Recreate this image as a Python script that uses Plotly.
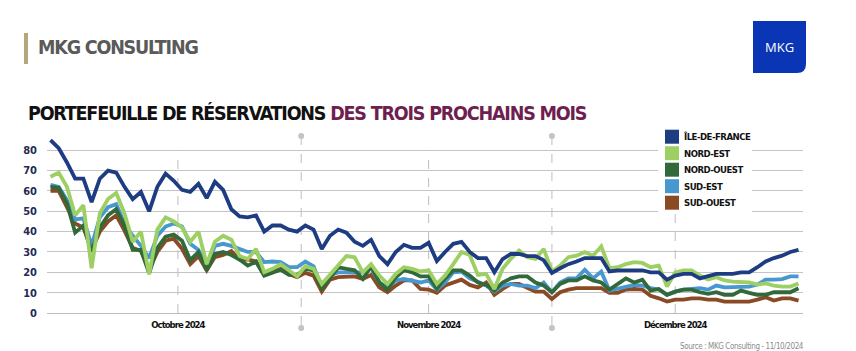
import plotly.graph_objects as go
import pandas as pd

# ---------------- data ----------------
START_DATE = "2024-10-01"
N_DAYS = 92

NAMES = ["ÎLE-DE-FRANCE", "NORD-EST", "NORD-OUEST", "SUD-EST", "SUD-OUEST"]
COLORS = ["#1E3C82", "#9DCF63", "#31693A", "#4798D0", "#8A4A24"]

IDF = [85, 81, 74, 66, 66, 54.5, 66, 70, 69, 62, 56, 59.5, 50, 62, 68.5, 65, 60.5, 59.5, 63.5, 56.5, 64.5, 60.5, 51,
       47.5, 47, 48, 40, 43, 43, 41, 40, 43, 41, 31.5, 38, 41, 39.5, 35, 33, 36, 28, 24, 30, 33.5, 32, 32,
       34.5, 25.5, 30, 34, 35, 30, 27, 27, 20, 26.5, 29, 29, 28, 28, 26, 19.7, 22, 24, 25.3, 27, 27, 27, 20.4,
       21, 21, 21, 21, 20, 20, 16.4, 18.4, 19.2, 19.2, 17, 18, 19.2, 19.2, 19.2, 20, 20, 22.5, 25.3, 27, 28.2, 30, 31]
NORD_EST = [67, 69, 62, 48, 53, 22, 49, 56, 59, 49, 35, 40, 19, 41, 47, 45, 42, 35, 40, 24, 35, 38, 36,
            28, 26.5, 31.5, 20, 21.7, 24, 21, 18, 23, 21.7, 14.3, 19, 24, 28, 27.4, 20, 24, 18.4, 14.3, 19.2, 22.5, 21.7, 20.4,
            21, 14.3, 18.4, 24, 30, 28.5, 18.7, 19.2, 11.8, 21.7, 26.6, 30.7, 27.4, 26.6, 31.5, 20.4, 23.3, 27.4, 28.2, 30, 28.2, 32.8, 22,
            22.5, 24, 25, 24.6, 22.5, 23.3, 13, 20, 21, 21, 18.4, 16.5, 17.6, 16, 15.4, 15, 15, 14, 14.5, 13.5, 13, 13, 14.5]
NORD_OUEST = [62, 61.5, 54, 39.5, 43, 30, 42, 48, 51, 43, 31, 31, 19.5, 32, 37.5, 38.5, 35.5, 26, 30, 21, 29, 30, 28.5,
              26.3, 23.3, 25.3, 18.4, 19.7, 21.3, 18.7, 18.7, 21.7, 21, 12, 17.6, 22.5, 21.7, 21, 16.7, 23, 15, 11.5, 17.6, 21, 20, 18,
              18, 12, 17, 21, 21, 18.4, 15, 13.8, 11, 15, 17, 18, 18, 15, 13.5, 10.2, 14.3, 16, 16, 18, 16, 15, 11.5,
              14.3, 17, 15, 16.4, 11, 11.8, 8.9, 10.5, 11.5, 11.5, 10.2, 9.4, 10.2, 8.9, 8.9, 11, 9.9, 8.9, 8.9, 10.2, 10.2, 10.2, 12.2]
SUD_EST = [63, 62, 55.5, 46, 46.5, 33, 47, 52, 53.5, 44, 38, 33, 27, 38, 42.5, 44, 42.5, 34, 31, 22.5, 33, 34, 33,
           31.5, 30, 30, 25, 25.3, 25, 22.5, 22.5, 25.3, 23, 12.6, 18.4, 20, 20, 20, 20, 22, 15, 12.6, 16, 16.7, 16, 15,
           16, 11.5, 15, 20, 20.4, 17, 15.4, 13.5, 10.5, 13.5, 14.3, 13.5, 13.5, 12.2, 15, 10.2, 15, 17, 17, 21.3, 17, 20.4, 11,
           12, 13, 13.8, 13.5, 12.2, 11.5, 8.9, 10.5, 11.5, 11.8, 12.2, 11.5, 13.5, 12.6, 12.6, 13, 13, 14, 16.4, 16.4, 16.7, 18, 18]
SUD_OUEST = [60, 60, 52, 44, 42, 31, 40, 45, 48, 40.5, 32, 30.5, 21.5, 30, 35.5, 36.5, 31.5, 24, 28, 21, 27.5, 28.5, 30.5,
             26.3, 26.3, 25.3, 18.7, 20, 21.7, 19.2, 17.6, 19.7, 18.4, 10.5, 16.4, 17.6, 18, 18, 16.7, 18.7, 12.6, 10.2, 13.5, 16, 16, 11.8,
             11.5, 9.9, 13.5, 15, 16.4, 13.8, 12.6, 15, 8.9, 11.8, 14.3, 14.3, 12.6, 10.5, 10.5, 6.9, 10.2, 11.5, 12.2, 12.2, 12.2, 12.2, 9.9,
             9.9, 11.5, 11.8, 11.5, 8.5, 7.2, 5.6, 6.6, 6.6, 7.2, 7.2, 6.6, 6.6, 5.6, 5.6, 5.6, 5.6, 6.6, 7.7, 6.1, 7.2, 7.2, 6.1]
SERIES = [IDF, NORD_EST, NORD_OUEST, SUD_EST, SUD_OUEST]

MONTH_LABELS = ["Octobre 2024", "Novembre 2024", "Décembre 2024"]
MONTH_MIDS = ["2024-10-16 12:00", "2024-11-16", "2024-12-16"]
MONTH_BOUNDS = ["2024-10-31 12:00", "2024-12-01"]
Y_TICKS = [0, 10, 20, 30, 40, 50, 60, 70, 80]

# ---------------- layout geometry ----------------
W, H = 856, 351
L, R, T, B = 47, 53, 136, 38
PW = W - L - R
PH = H - T - B
NARROW = "DejaVu Sans Condensed, Liberation Sans Narrow, Arial Narrow, sans-serif"


def px(xp):
    return (xp - L) / PW


def py(yp):
    return (H - B - yp) / PH


def tight(text, spacing):
    return f"<span style='letter-spacing:{spacing}px'>{text}</span>"


dates = pd.date_range(START_DATE, periods=N_DAYS, freq="D")
day_px = 8.22
x_start = dates[0] - pd.Timedelta(days=(50.5 - L) / day_px)
x_end = dates[0] + pd.Timedelta(days=(W - R - 50.5) / day_px)

fig = go.Figure()
for name, vals, color in reversed(list(zip(NAMES, SERIES, COLORS))):
    fig.add_trace(go.Scatter(x=dates, y=vals, mode="lines", name=name,
                             line=dict(color=color, width=3.8), showlegend=False,
                             hoverinfo="skip"))

shapes = []
for m in MONTH_MIDS:
    shapes.append(dict(type="line", xref="x", yref="y", x0=m, x1=m, y0=0, y1=80,
                       line=dict(color="#BDBDBD", width=1, dash="dash"), layer="between"))
for m in MONTH_BOUNDS:
    shapes.append(dict(type="line", xref="x", yref="paper", x0=m, x1=m, y0=py(136), y1=py(328),
                       line=dict(color="#BDBDBD", width=1, dash="dash"), layer="between"))
    for yy in (136, 328):
        shapes.append(dict(type="circle", xref="x", yref="paper", xsizemode="pixel", ysizemode="pixel",
                           xanchor=m, yanchor=py(yy), x0=-3, x1=3, y0=-3, y1=3,
                           fillcolor="#C4C4C4", line=dict(width=0), layer="above"))
shapes.append(dict(type="rect", xref="paper", yref="paper", x0=px(658), x1=px(752), y0=py(127), y1=py(213),
                   fillcolor="white", line=dict(width=0), layer="above"))
for i, color in enumerate(COLORS):
    cy = 136.7 + i * 16.5
    shapes.append(dict(type="rect", xref="paper", yref="paper", x0=px(665), x1=px(679),
                       y0=py(cy + 7), y1=py(cy - 7), fillcolor=color, line=dict(width=0), layer="above"))
shapes.append(dict(type="rect", xref="paper", yref="paper", x0=px(24), x1=px(28), y0=py(64), y1=py(33),
                   fillcolor="#B5A77A", line=dict(width=0)))
x0, x1, y0, y1, r = px(753), px(806), py(21), py(73), 9
xr, yr = px(806 - r), py(73 - r)
shapes.append(dict(type="path", xref="paper", yref="paper",
                   path=f"M {x0},{y0} L {x1},{y0} L {x1},{yr} Q {x1},{y1} {xr},{y1} L {x0},{y1} Z",
                   fillcolor="#0A36B5", line=dict(width=0)))

annotations = []
annotations.append(dict(text="<b>" + tight("MKG CONSULTING", -1.2) + "</b>", xref="paper", yref="paper",
                        x=px(36), y=py(48), xanchor="left", yanchor="middle", showarrow=False,
                        font=dict(family=NARROW, size=19.5, color="#5A5A5A")))
annotations.append(dict(text="<b>" + tight("PORTEFEUILLE DE RÉSERVATIONS ", -1.2)
                        + "<span style='color:#6E1F4F;letter-spacing:-1.2px'>DES TROIS PROCHAINS MOIS</span></b>",
                        xref="paper", yref="paper", x=px(26), y=py(113), xanchor="left", yanchor="middle",
                        showarrow=False, font=dict(family=NARROW, size=19.5, color="#111111")))
annotations.append(dict(text="MKG", xref="paper", yref="paper", x=px(779), y=py(47), xanchor="center",
                        yanchor="middle", showarrow=False,
                        font=dict(family="Open Sans, Arial, sans-serif", size=13, color="white")))
for i, name in enumerate(NAMES):
    cy = 136.7 + i * 16.5
    annotations.append(dict(text="<b>" + tight(name, -0.5) + "</b>", xref="paper", yref="paper",
                            x=px(682), y=py(cy), xanchor="left", yanchor="middle", showarrow=False,
                            font=dict(family=NARROW, size=9.5, color="#111111")))
annotations.append(dict(text=tight("Source : MKG Consulting - 11/10/2024", -0.4), xref="paper", yref="paper",
                        x=px(806), y=py(346), xanchor="right", yanchor="middle", showarrow=False,
                        font=dict(family=NARROW, size=8, color="#8C8C8C")))

fig.update_layout(
    width=W, height=H, margin=dict(l=L, r=R, t=T, b=B, pad=0),
    paper_bgcolor="white", plot_bgcolor="white",
    shapes=shapes, annotations=annotations,
    xaxis=dict(type="date", range=[x_start, x_end], showgrid=False, zeroline=False,
               showline=True, linecolor="#BDBDBD", linewidth=1, ticks="",
               tickvals=MONTH_MIDS, ticktext=["<b>" + tight(t, -1.0) + "</b>" for t in MONTH_LABELS],
               tickfont=dict(family=NARROW, size=9.5, color="#111111"), ticklabelstandoff=3),
    yaxis=dict(range=[0, 87], tickvals=Y_TICKS, showgrid=True, gridcolor="#C4C4C4", gridwidth=1,
               zeroline=False, showline=False, ticks="",
               ticktext=[f"<b>{v}</b>" for v in Y_TICKS],
               tickfont=dict(family=NARROW, size=11, color="#1F2A55"), ticklabelstandoff=9),
    showlegend=False,
)

fig.write_html("out.html")
